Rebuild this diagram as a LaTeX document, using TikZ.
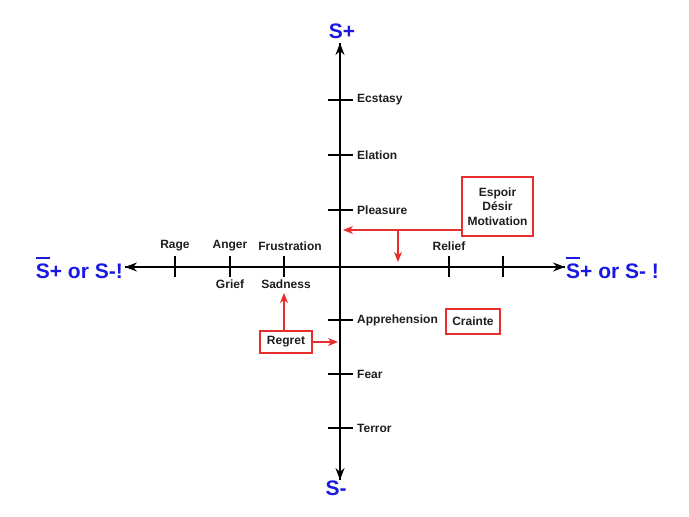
\documentclass[tikz,border=0pt]{standalone}
\usepackage{fontspec}
\setmainfont{Liberation Sans}
\usetikzlibrary{arrows.meta}
\definecolor{myred}{RGB}{232,45,45}
\definecolor{myblue}{RGB}{25,25,225}
\definecolor{mytext}{RGB}{30,30,30}
\newcommand{\ovS}{\rlap{\rule[20pt]{14pt}{1.6pt}}S}
\begin{document}
\begin{tikzpicture}[x=1pt,y=-1pt,
  axis/.style={line width=1.4pt,-{Stealth[length=12pt,width=9pt,inset=4pt]}},
  tick/.style={line width=1.4pt},
  lbl/.style={font=\fontsize{12}{14}\selectfont\bfseries,text=mytext,inner sep=0pt},
  big/.style={font=\fontsize{21}{23}\selectfont\bfseries,text=myblue,inner sep=0pt},
  rbox/.style={draw=myred,line width=1.3pt,font=\fontsize{12}{14.5}\selectfont\bfseries,text=mytext,align=center,inner sep=0pt},
  rarr/.style={draw=myred,line width=1.3pt,-{Stealth[length=10pt,width=8pt,inset=3pt]}}]
\useasboundingbox (0,0) rectangle (689,517);
% axes
\coordinate (O) at (340,267);
\coordinate (top) at (340,43);
\coordinate (bot) at (340,480);
\coordinate (lft) at (125,267);
\coordinate (rgt) at (565,267);
\draw[axis] (bot) -- (top);
\draw[axis] (top) -- (bot);
\draw[axis] (rgt) -- (lft);
\draw[axis] (lft) -- (rgt);
\node[big] (sp) at (342,31) {S+};
\node[big] (sm) at (336,488) {S-};
\node[big,anchor=east] (sl) at (123,268) {\ovS+ or S-!};
\node[big,anchor=west] (sr) at (566,268) {\ovS+ or S- !};
% vertical ticks
\foreach \y/\t in {100/Ecstasy,155/Elation,210/Pleasure,320/Apprehension,374/Fear,428/Terror}{
  \draw[tick] (328,\y) -- (353,\y);
  \node[lbl,anchor=west] (v\t) at (357,\y) {\t};
}
% horizontal ticks
\foreach \x in {175,230,284,449,503}{
  \draw[tick] (\x,256) -- (\x,277);
}
\node[lbl] (rage) at (175,246) {Rage};
\node[lbl] (anger) at (230,246) {Anger};
\node[lbl] (frus) at (290,246) {Frustration};
\node[lbl] (relief) at (449,246) {Relief};
\node[lbl] (grief) at (230,284) {Grief};
\node[lbl] (sad) at (286,284) {Sadness};
% red boxes
\node[rbox,minimum width=71pt,minimum height=59pt] (esp) at (497.5,206.5) {Espoir\\D\'esir\\Motivation};
\node[rbox,minimum width=54pt,minimum height=25pt] (cra) at (473,321.5) {Crainte};
\node[rbox,minimum width=52pt,minimum height=22pt] (reg) at (286,342) {Regret};
% red arrows
\coordinate (ea) at (esp.west |- 0,230);
\coordinate (eb) at (343,230);
\coordinate (ec) at (398,230);
\coordinate (ed) at (398,262);
\draw[rarr] (ea) -- (eb);
\draw[rarr] (ec) -- (ed);
\coordinate (ra) at (284,293);
\coordinate (rb) at (338,342);
\draw[rarr] (reg.north -| ra) -- (ra);
\draw[rarr] (reg.east) -- (rb);
\end{tikzpicture}
\end{document}
